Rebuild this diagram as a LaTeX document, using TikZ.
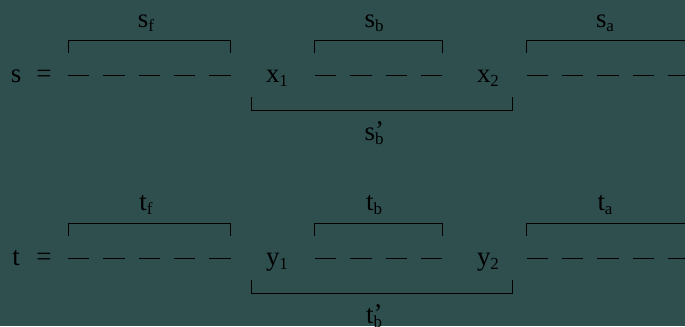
\documentclass[tikz,border=0pt]{standalone}
\usepackage{fontspec}
\setmainfont{Liberation Serif}
\usetikzlibrary{positioning}
\definecolor{slatebg}{HTML}{2F4F4F}
\newcommand{\lowsub}[1]{\raisebox{-0.35ex}{\fontsize{17}{18}\selectfont #1}}
\newcommand{\primesub}[1]{\rlap{\raisebox{0.05ex}{’}}\lowsub{#1}}

\begin{document}
\begin{tikzpicture}[x=1bp, y=-1bp,
  sym/.style={font=\fontsize{27}{30}\selectfont, inner sep=0pt, anchor=base},
  brk/.style={line width=1bp, draw=black},
  dsh/.style={line width=1bp, draw=black}
]
\fill[slatebg] (0,0) rectangle (685,326);
\useasboundingbox (0,0) rectangle (685,326);
\clip (0,0) rectangle (685,326);
\foreach \dy/\v/\w in {0/s/x, 183/t/y} {
  \begin{scope}[yshift=-\dy bp]
    % left-hand side
    \node[sym] (\v-lhs) at (16,82) {\v};
    \node[sym] (\v-eq) at (44,82) {=};
    \node[sym] (\v-m1) at (277,82) {\w\lowsub{1}};
    \node[sym] (\v-m2) at (488,82) {\w\lowsub{2}};
    % dashes
    \foreach \xa in {68,103.3,138.6,174,209.3,315,350.3,385.6,421,526.7,562,597.3,632.6,668}
      \draw[dsh] (\xa,75.5) -- ++(21.3,0);
    % brackets above
    \draw[brk] (68.5,53) -- (68.5,40.5) -- (230.5,40.5) -- (230.5,53);
    \draw[brk] (314.5,53) -- (314.5,40.5) -- (442.5,40.5) -- (442.5,53);
    \draw[brk] (526.5,53) -- (526.5,40.5) -- (704,40.5) -- (704,53);
    \node[sym] (\v-f) at (146,27) {\v\lowsub{f}};
    \node[sym] (\v-b) at (374,27) {\v\lowsub{b}};
    \node[sym] (\v-a) at (605,27) {\v\lowsub{a}};
    % bracket below
    \draw[brk] (251.5,97) -- (251.5,110.5) -- (512.5,110.5) -- (512.5,97);
    \node[sym] (\v-bb) at (374,140) {\v\primesub{b}};
  \end{scope}
}
\end{tikzpicture}
\end{document}
